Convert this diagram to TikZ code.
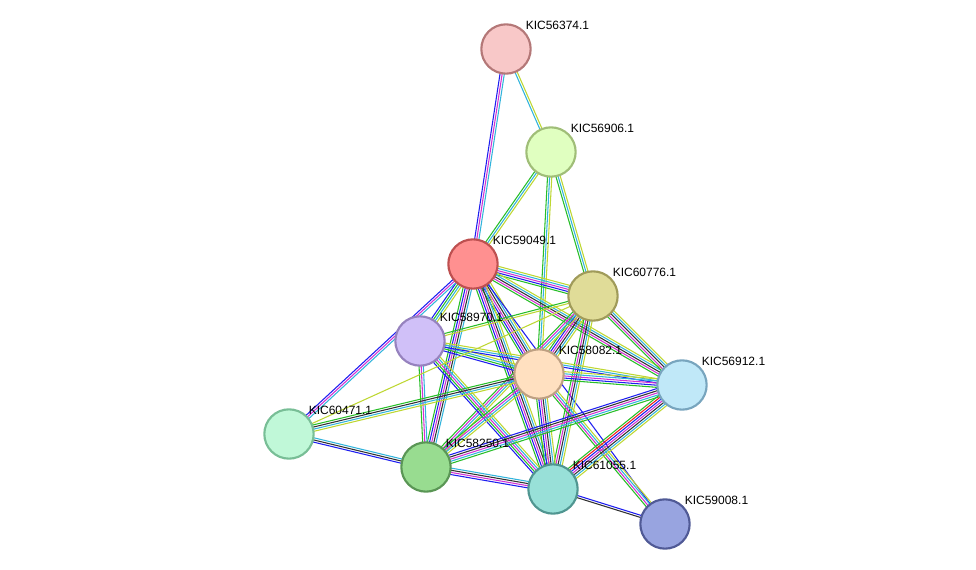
\documentclass[tikz,border=0pt]{standalone}
\usepackage{fontspec}
\setmainfont{Liberation Sans}
\usetikzlibrary{calc,backgrounds}

\definecolor{nbh}{RGB}{40,190,40}
\definecolor{cooc}{RGB}{30,30,240}
\definecolor{exp}{RGB}{210,50,210}
\definecolor{coexp}{RGB}{50,50,50}
\definecolor{db}{RGB}{50,180,220}
\definecolor{tm}{RGB}{190,215,50}
\definecolor{fus}{RGB}{240,30,30}

\tikzset{
  prot/.style={circle,draw,line width=1.6pt,minimum size=37pt,inner sep=0pt},
  plabel/.style={font=\fontsize{9}{10}\selectfont,anchor=south west,inner sep=1pt},
}

% one parallel line per evidence channel
\newcommand\stredge[4]{%
  \foreach \c [count=\i] in {#4} {
    \pgfmathsetmacro\off{(\i-(#3+1)/2)*1.6}
    \draw[\c,line width=0.8pt] ($(#1.center)!\off pt!90:(#2.center)$) -- ($(#2.center)!\off pt!-90:(#1.center)$);
  }}

\begin{document}
\begin{tikzpicture}[x=0.75pt,y=-0.75pt]
  \useasboundingbox (0,0) rectangle (976,570);

  \node[prot,fill={rgb,255:red,248;green,200;blue,200},draw={rgb,255:red,180;green,120;blue,120}] (n56374) at (506,49) {};
  \node[prot,fill={rgb,255:red,224;green,255;blue,192},draw={rgb,255:red,160;green,190;blue,120}] (n56906) at (551,152) {};
  \node[prot,fill={rgb,255:red,255;green,144;blue,144},draw={rgb,255:red,190;green,80;blue,80}] (n59049) at (473,264) {};
  \node[prot,fill={rgb,255:red,224;green,220;blue,152},draw={rgb,255:red,160;green,155;blue,90}] (n60776) at (593,296) {};
  \node[prot,fill={rgb,255:red,208;green,192;blue,248},draw={rgb,255:red,150;green,130;blue,190}] (n58970) at (420,341) {};
  \node[prot,fill={rgb,255:red,255;green,224;blue,192},draw={rgb,255:red,190;green,160;blue,130}] (n58082) at (539,374) {};
  \node[prot,fill={rgb,255:red,192;green,232;blue,248},draw={rgb,255:red,120;green,165;blue,190}] (n56912) at (682,385) {};
  \node[prot,fill={rgb,255:red,192;green,248;blue,216},draw={rgb,255:red,120;green,190;blue,150}] (n60471) at (289,434) {};
  \node[prot,fill={rgb,255:red,152;green,220;blue,144},draw={rgb,255:red,90;green,150;blue,85}] (n58250) at (426,467) {};
  \node[prot,fill={rgb,255:red,152;green,224;blue,216},draw={rgb,255:red,80;green,150;blue,145}] (n61055) at (553,489) {};
  \node[prot,fill={rgb,255:red,152;green,164;blue,224},draw={rgb,255:red,80;green,90;blue,150}] (n59008) at (665,524) {};

  \node[plabel] (l56374) at (n56374.north east) {KIC56374.1};
  \node[plabel] (l56906) at (n56906.north east) {KIC56906.1};
  \node[plabel] (l59049) at (n59049.north east) {KIC59049.1};
  \node[plabel] (l60776) at (n60776.north east) {KIC60776.1};
  \node[plabel] (l58970) at (n58970.north east) {KIC58970.1};
  \node[plabel] (l58082) at (n58082.north east) {KIC58082.1};
  \node[plabel] (l56912) at (n56912.north east) {KIC56912.1};
  \node[plabel] (l60471) at (n60471.north east) {KIC60471.1};
  \node[plabel] (l58250) at (n58250.north east) {KIC58250.1};
  \node[plabel] (l61055) at (n61055.north east) {KIC61055.1};
  \node[plabel] (l59008) at (n59008.north east) {KIC59008.1};

  \begin{pgfonlayer}{background}
    \stredge{n56374}{n59049}{3}{cooc,exp,db}
    \stredge{n56374}{n56906}{2}{db,tm}
    \stredge{n56906}{n59049}{3}{nbh,db,tm}
    \stredge{n56906}{n60776}{3}{nbh,db,tm}
    \stredge{n56906}{n58082}{3}{nbh,db,tm}
    \stredge{n59049}{n60776}{5}{nbh,cooc,exp,db,tm}
    \stredge{n59049}{n58970}{4}{cooc,nbh,db,tm}
    \stredge{n59049}{n58082}{6}{nbh,cooc,exp,coexp,db,tm}
    \stredge{n59049}{n56912}{5}{nbh,exp,coexp,db,tm}
    \stredge{n59049}{n60471}{3}{cooc,exp,db}
    \stredge{n59049}{n58250}{5}{nbh,cooc,exp,coexp,db}
    \stredge{n59049}{n61055}{6}{nbh,cooc,exp,coexp,db,tm}
    \stredge{n59049}{n59008}{1}{cooc}
    \stredge{n60776}{n58970}{2}{nbh,tm}
    \stredge{n60776}{n58082}{6}{nbh,cooc,exp,coexp,db,tm}
    \stredge{n60776}{n56912}{5}{nbh,exp,coexp,db,tm}
    \stredge{n60776}{n58250}{4}{nbh,exp,db,tm}
    \stredge{n60776}{n61055}{5}{nbh,exp,coexp,db,tm}
    \stredge{n58970}{n58082}{4}{cooc,nbh,db,tm}
    \stredge{n58970}{n56912}{3}{cooc,db,tm}
    \stredge{n58970}{n58250}{3}{nbh,exp,db}
    \stredge{n58970}{n61055}{5}{cooc,nbh,exp,db,tm}
    \stredge{n58082}{n56912}{5}{nbh,cooc,exp,db,tm}
    \stredge{n58082}{n60471}{4}{nbh,coexp,db,tm}
    \stredge{n58082}{n58250}{4}{nbh,exp,db,tm}
    \stredge{n58082}{n61055}{6}{nbh,cooc,exp,coexp,db,tm}
    \stredge{n58082}{n59008}{4}{nbh,exp,db,tm}
    \stredge{n56912}{n58250}{5}{cooc,coexp,exp,db,nbh}
    \stredge{n56912}{n61055}{7}{nbh,fus,cooc,exp,coexp,db,tm}
    \stredge{n60471}{n58250}{3}{cooc,coexp,db}
    \stredge{n60471}{n60776}{1}{tm}
    \stredge{n58250}{n61055}{4}{cooc,exp,coexp,db}
    \stredge{n61055}{n59008}{2}{coexp,cooc}
  \end{pgfonlayer}
\end{tikzpicture}
\end{document}
